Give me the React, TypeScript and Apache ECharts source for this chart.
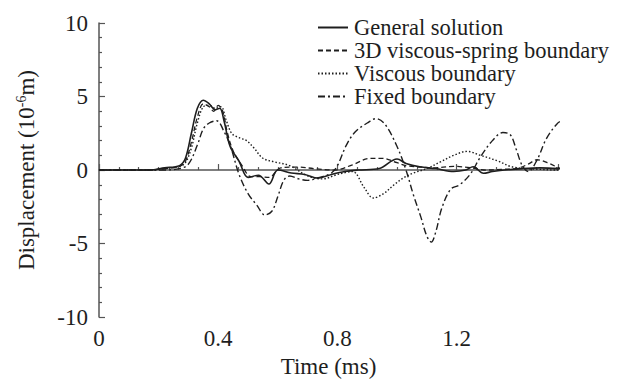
import React, { useEffect, useRef } from "react";
import * as echarts from "echarts";

const seriesNames = [
  "General solution",
  "3D viscous-spring boundary",
  "Viscous boundary",
  "Fixed boundary",
];

const generalT = [0, 0.17, 0.22, 0.27, 0.29, 0.31, 0.33, 0.35, 0.37, 0.39, 0.405, 0.42, 0.44, 0.47, 0.5, 0.535, 0.57, 0.6, 0.645, 0.69, 0.735, 0.78, 0.825, 0.87, 0.94, 1.0, 1.03, 1.076, 1.13, 1.19, 1.23, 1.255, 1.29, 1.32, 1.36, 1.42, 1.48, 1.54, 1.59];
const generalV = [0, 0, 0.15, 0.3, 0.8, 2.5, 4.2, 4.75, 4.5, 4.1, 4.2, 3.3, 1.6, 0.6, -0.5, -0.35, -0.95, 0, -0.2, -0.3, -0.55, -0.3, -0.1, 0, 0.1, 0.75, 0.45, 0.22, 0.1, -0.1, 0, 0.22, -0.22, -0.1, 0, 0.1, 0.15, 0.1, 0];

const springT = [0, 0.17, 0.22, 0.27, 0.29, 0.31, 0.33, 0.35, 0.37, 0.385, 0.4, 0.415, 0.43, 0.45, 0.48, 0.51, 0.54, 0.57, 0.61, 0.67, 0.72, 0.79, 0.85, 0.91, 0.95, 1.0, 1.03, 1.08, 1.12, 1.19, 1.25, 1.3, 1.35, 1.4, 1.44, 1.47, 1.51, 1.55, 1.59];
const springV = [0, 0, 0.1, 0.25, 0.6, 1.9, 3.6, 4.5, 4.3, 4.0, 4.4, 4.0, 2.6, 1.3, 0.3, -0.45, -0.45, -0.5, 0.15, 0.2, 0.1, 0, 0.35, 0.8, 0.8, 0.5, 0.3, 0.2, 0.15, 0.25, 0.15, 0, 0.05, 0.1, 0.4, 0.7, 0.45, 0.1, 0];

const viscousT = [0, 0.17, 0.22, 0.27, 0.29, 0.31, 0.33, 0.35, 0.37, 0.39, 0.41, 0.425, 0.445, 0.47, 0.495, 0.52, 0.55, 0.59, 0.64, 0.7, 0.75, 0.8, 0.85, 0.89, 0.92, 0.955, 0.99, 1.02, 1.055, 1.1, 1.145, 1.19, 1.235, 1.28, 1.34, 1.38, 1.43, 1.48, 1.53, 1.59];
const viscousV = [0, 0, 0.1, 0.25, 0.5, 1.5, 3.2, 4.3, 4.4, 4.2, 4.3, 3.5, 2.5, 2.2, 2.0, 1.5, 0.8, 0.55, 0.3, -0.4, -0.6, -0.3, -0.1, -1.2, -1.9, -1.6, -1.0, -0.55, -0.2, 0.1, 0.55, 1.0, 1.27, 1.0, 0.6, 0.25, 0.1, 0.05, 0, 0];

const fixedT = [0, 0.2, 0.27, 0.3, 0.33, 0.35, 0.37, 0.395, 0.42, 0.44, 0.47, 0.5, 0.53, 0.556, 0.58, 0.6, 0.62, 0.64, 0.67, 0.7, 0.74, 0.78, 0.8, 0.83, 0.86, 0.9, 0.93, 0.96, 1.0, 1.03, 1.055, 1.08, 1.1, 1.115, 1.13, 1.15, 1.18, 1.21, 1.245, 1.28, 1.32, 1.355, 1.38, 1.4, 1.42, 1.44, 1.47, 1.5, 1.535, 1.555, 1.575, 1.59];
const fixedV = [0, 0, 0.1, 0.4, 1.7, 2.8, 3.2, 3.35, 2.6, 1.7, -0.3, -1.6, -2.4, -3.05, -2.8, -1.8, -0.7, -0.4, -0.6, -0.7, -0.5, -0.2, 0.3, 1.7, 2.6, 3.2, 3.5, 3.1, 1.6, 0, -1.7, -3.2, -4.5, -4.9, -4.2, -2.6, -1.3, -1.0, -0.3, 0.9, 2.0, 2.55, 2.4, 1.4, 0.3, -0.1, 0.7, 2.1, 3.1, 3.35, 3.0, 1.6];

const xTicks = [0, 0.4, 0.8, 1.2];
const yTicks = [-10, -5, 0, 5, 10];

const pair = (t: number[], v: number[]) => t.map((x, i) => [x, v[i]]);

const FONT = "Liberation Serif";
const INK = "#1e1e1e";
const AXIS = "#555555";

export default function App() {
  const ref = useRef<HTMLDivElement>(null);
  useEffect(() => {
    if (!ref.current) return;
    const chart = echarts.init(ref.current, null, { renderer: "svg" });
    const styles: any[] = [
      { type: "solid", width: 1.6 },
      { type: [5, 3], width: 1.3 },
      { type: [1.5, 2], width: 1.4 },
      { type: [7, 3, 2, 3], width: 1.4 },
    ];
    const datas = [
      pair(generalT, generalV),
      pair(springT, springV),
      pair(viscousT, viscousV),
      pair(fixedT, fixedV),
    ];
    chart.setOption({
      animation: false,
      backgroundColor: "#ffffff",
      textStyle: { fontFamily: FONT, color: INK },
      grid: { left: 99, right: 85, top: 23, bottom: 63, containLabel: false },
      legend: {
        orient: "vertical",
        left: 317,
        top: 16,
        itemWidth: 30,
        itemHeight: 10,
        itemGap: 0,
        padding: 0,
        data: seriesNames,
        itemStyle: { opacity: 0 },
        textStyle: { fontFamily: FONT, fontSize: 22.5, lineHeight: 22.5, color: INK, padding: [0, 0, 0, 1] },
      },
      xAxis: {
        type: "value",
        min: xTicks[0],
        max: 1.54,
        interval: 0.4,
        name: "Time (ms)",
        nameLocation: "middle",
        nameGap: 34,
        nameTextStyle: { fontFamily: FONT, fontSize: 23, color: INK },
        axisLine: { show: true, lineStyle: { color: AXIS, width: 1.5 } },
        axisTick: { show: true, inside: true, length: 6, lineStyle: { color: AXIS, width: 1.2 } },
        minorTick: { show: true, splitNumber: 6, length: 3, lineStyle: { color: AXIS, width: 1.2 } },
        splitLine: { show: false },
        axisLabel: {
          fontFamily: FONT,
          fontSize: 23,
          color: INK,
          margin: 10,
          showMaxLabel: false,
          formatter: (v: number) => (xTicks.some((t) => Math.abs(t - v) < 1e-6) ? String(v) : ""),
        },
      },
      yAxis: {
        type: "value",
        min: yTicks[0],
        max: yTicks[yTicks.length - 1],
        interval: 5,
        name: "{a|Displacement (10}{s|-6}{a|m)}",
        nameLocation: "middle",
        nameGap: 61,
        nameTextStyle: {
          rich: {
            a: { fontFamily: FONT, fontSize: 23, color: INK, lineHeight: 24 },
            s: { fontFamily: FONT, fontSize: 14, color: INK, verticalAlign: "top", lineHeight: 24, padding: [0, 0, 8, 0] },
          },
        },
        axisLine: { show: true, lineStyle: { color: AXIS, width: 1.5 } },
        axisTick: { show: true, inside: true, length: 6, lineStyle: { color: AXIS, width: 1.2 } },
        minorTick: { show: true, splitNumber: 5, length: 3, lineStyle: { color: AXIS, width: 1.2 } },
        splitLine: { show: false },
        axisLabel: { fontFamily: FONT, fontSize: 23, color: INK, margin: 11 },
      },
      series: seriesNames.map((name, i) => ({
        name,
        type: "line",
        data: datas[i],
        symbol: "none",
        smooth: 0.35,
        clip: false,
        z: 10 - i,
        lineStyle: { color: INK, ...styles[i] },
        itemStyle: { color: INK },
      })),
    });
    return () => chart.dispose();
  }, []);
  return (
    <div
      ref={ref}
      style={{ position: "fixed", left: 0, top: 0, width: 643, height: 383, background: "#fff" }}
    />
  );
}
